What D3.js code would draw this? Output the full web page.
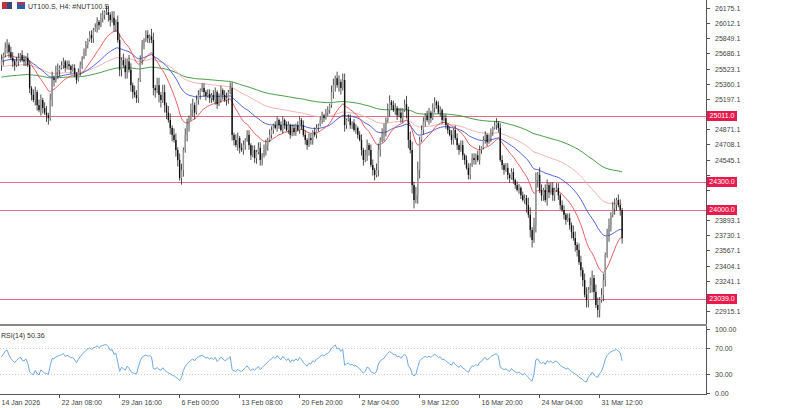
<!DOCTYPE html>
<html>
<head>
<meta charset="utf-8">
<script src="https://cdn.jsdelivr.net/npm/d3@7"></script>
<style>
  body { margin: 0; background: #fff; }
  text { font-family: "Liberation Sans", Arial, sans-serif; }
</style>
</head>
<body>
<div id="chart"></div>
<script>
// H4 closes (8 bars per row)
const closes = [
  25615,25670,25745,25780,25700,25640,25600,25560,
  25600,25640,25670,25615,25600,25640,25560,25310,
  25240,25185,25270,25130,25077,25185,25100,25050,
  25020,24990,25185,25420,25400,25485,25508,25530,
  25560,25600,25530,25570,25550,25508,25530,25470,
  25400,25485,25560,25640,25700,25780,25830,25885,
  25850,25940,25960,26025,25990,26070,26100,26130,
  26130,26100,26046,26070,25990,26025,25830,25510,
  25615,25560,25485,25600,25510,25345,25270,25240,
  25205,25400,25615,25780,25830,25885,25850,25870,
  25830,25315,25290,25345,25240,25185,25270,25130,
  25050,24970,24885,24810,24755,24647,24540,24345,
  24430,24647,24810,24915,24990,25077,25130,25050,
  25185,25240,25290,25315,25270,25230,25250,25205,
  25240,25185,25270,25140,25205,25290,25240,25185,
  25205,25270,25315,24810,24755,24700,24775,24670,
  24647,24700,24755,24810,24700,24590,24647,24560,
  24625,24670,24540,24590,24647,24700,24755,24810,
  24862,24915,24885,24970,24915,24862,24970,24915,
  24862,24915,24810,24885,24840,24915,24862,24970,
  24915,24810,24755,24700,24775,24755,24840,24810,
  24885,24915,24970,25020,24990,25050,25077,25130,
  25270,25345,25420,25345,25380,25315,25400,24915,
  24970,24990,24915,24940,24862,24885,24810,24755,
  24647,24540,24590,24700,24647,24485,24432,24380,
  24432,24647,24755,24810,24862,24970,25077,25165,
  25130,25077,25100,25020,25050,24990,25077,25140,
  25077,24755,24647,24270,24109,24160,24432,24755,
  24862,24950,25020,24970,25050,24990,25100,25165,
  25130,25050,25077,24970,24990,24915,24862,24810,
  24755,24862,24775,24700,24647,24700,24590,24540,
  24455,24380,24485,24560,24540,24590,24540,24647,
  24670,24755,24810,24730,24775,24840,24885,24915,
  24940,24885,24540,24485,24432,24455,24380,24345,
  24410,24324,24270,24217,24240,24160,24109,24130,
  24055,23950,23786,23679,23840,24324,24380,24217,
  24160,24217,24109,24270,24190,24240,24160,24217,
  24240,24160,24055,24001,23950,23894,23915,23840,
  23765,23700,23625,23571,23440,23356,23248,23090,
  23033,23141,23195,23270,23120,22980,22926,23033,
  23090,23248,23517,23730,23840,23950,24020,24055,
  24109,24055,24001,23700
];
// typical wick length per row of 8 bars (points)
const wickPerRow = [60,50,60,70,40,40,50,70,70,50,80,70,70,50,50,60,50,60,40,40,50,40,70,40,60,70,50,90,50,40,50,50,40,50,40,80,60,50,70,80,70,60];
const openFirst = 25560;
const priceTicks = [22915.1,23078.1,23241.1,23404.1,23567.1,23730.1,23893.1,24056.1,24219.1,24382.1,24545.1,24708.1,24871.1,25034.1,25197.1,25360.1,25523.1,25686.1,25849.1,26012.1,26175.1];
const levels = [25011.0, 24300.0, 24000.0, 23039.0];
const timeLabels = ["14 Jan 2026","22 Jan 08:00","29 Jan 16:00","6 Feb 00:00","13 Feb 08:00","20 Feb 20:00","2 Mar 04:00","9 Mar 12:00","16 Mar 20:00","24 Mar 04:00","31 Mar 12:00"];
const labelEvery = 32;
// moving averages: period, colour, starting value read at the left edge
const maDefs = [
  { period: 200, color: "#2f8f2f", seed: 25430 },
  { period: 100, color: "#f2a9a9", seed: 25540 },
  { period: 50,  color: "#3e4fd6", seed: 25600 },
  { period: 20,  color: "#e3504f", seed: 25640 }
];
const rsiSeed = { gain: 22, loss: 20 };

const W = 803, H = 408, axisX = 706;
const rsiTop = 329, rsiBottom = 393;
const fs = 7;

const bars = closes.map((c, i) => {
  const o = i === 0 ? openFirst : closes[i - 1];
  const w = wickPerRow[Math.floor(i / 8)];
  return { i, o, c, h: Math.max(o, c) + w * (i % 3 === 1 ? 0.4 : 1), l: Math.min(o, c) - w * (i % 3 === 2 ? 0.4 : 1) };
});

const x = d3.scaleLinear().domain([0, labelEvery]).range([1.5, 61.5]);
const y = d3.scaleLinear().domain([22915.1, 26175.1]).range([311, 8]);
const yr = d3.scaleLinear().domain([0, 100]).range([rsiBottom, rsiTop]);

const svg = d3.select("#chart").append("svg").attr("width", W).attr("height", H);

// horizontal levels
svg.append("g").selectAll("line").data(levels).join("line")
  .attr("x1", 0).attr("x2", axisX).attr("y1", d => Math.round(y(d)) + 0.5).attr("y2", d => Math.round(y(d)) + 0.5)
  .attr("stroke", "#e0708a").attr("stroke-width", 1);

// moving averages
maDefs.forEach(m => {
  const k = 2 / (m.period + 1);
  let v = m.seed;
  const pts = closes.map((c, i) => { v = v + k * (c - v); return [x(i), y(v)]; });
  svg.append("path").attr("d", d3.line()(pts)).attr("fill", "none").attr("stroke", m.color).attr("stroke-width", 0.9);
});

// candles
const cg = svg.append("g");
cg.selectAll("line").data(bars).join("line")
  .attr("x1", d => x(d.i)).attr("x2", d => x(d.i))
  .attr("y1", d => y(d.h)).attr("y2", d => y(d.l))
  .attr("stroke", "#222").attr("stroke-width", 0.8);
cg.selectAll("rect").data(bars).join("rect")
  .attr("x", d => x(d.i) - 0.7).attr("width", 1.4)
  .attr("y", d => y(Math.max(d.o, d.c)))
  .attr("height", d => Math.max(0.8, Math.abs(y(d.o) - y(d.c))))
  .attr("fill", d => d.c >= d.o ? "#9a9a9a" : "#111");

// price axis
svg.append("rect").attr("x", axisX).attr("y", 0).attr("width", W - axisX).attr("height", H).attr("fill", "#fff");
svg.append("line").attr("x1", axisX + 0.5).attr("x2", axisX + 0.5).attr("y1", 0).attr("y2", rsiBottom + 2).attr("stroke", "#555");
const pa = svg.append("g").selectAll("g").data(priceTicks).join("g")
  .attr("transform", d => `translate(${axisX},${Math.round(y(d)) + 0.5})`);
pa.append("line").attr("x1", 0).attr("x2", 4).attr("stroke", "#555");
pa.filter(d => levels.every(l => Math.abs(y(l) - y(d)) > 8))
  .append("text").attr("x", 9).attr("dy", "0.35em").attr("font-size", fs).attr("fill", "#444").text(d => d.toFixed(1));

const lv = svg.append("g").selectAll("g").data(levels).join("g")
  .attr("transform", d => `translate(${axisX + 1},${Math.round(y(d))})`);
lv.append("rect").attr("x", 0).attr("y", -5).attr("width", 30).attr("height", 10).attr("fill", "#e8194b");
lv.append("text").attr("x", 15).attr("text-anchor", "middle").attr("dy", "0.35em").attr("font-size", fs).attr("fill", "#fff").text(d => d.toFixed(1));

// separator
svg.append("rect").attr("x", 0).attr("y", 324).attr("width", axisX + 1).attr("height", 2).attr("fill", "#888");

// RSI pane
[70, 30].forEach(v => svg.append("line").attr("x1", 0).attr("x2", axisX).attr("y1", Math.round(yr(v)) + 0.5).attr("y2", Math.round(yr(v)) + 0.5)
  .attr("stroke", "#ccc").attr("stroke-dasharray", "1,2"));
let ag = rsiSeed.gain, al = rsiSeed.loss;
const rsi = closes.map((c, i) => {
  const prev = i === 0 ? openFirst : closes[i - 1];
  const ch = c - prev;
  ag = (ag * 13 + Math.max(ch, 0)) / 14;
  al = (al * 13 + Math.max(-ch, 0)) / 14;
  return 100 - 100 / (1 + ag / al);
});
svg.append("path").attr("d", d3.line()(rsi.map((v, i) => [x(i), yr(v)])))
  .attr("fill", "none").attr("stroke", "#6fa8e6").attr("stroke-width", 1);
svg.append("text").attr("x", 1).attr("y", 338).attr("font-size", fs).attr("fill", "#333")
  .text(`RSI(14) ${rsi[rsi.length - 1].toFixed(2)}`);
const ra = svg.append("g").selectAll("g").data([100, 70, 30, 0]).join("g")
  .attr("transform", d => `translate(${axisX},${Math.round(yr(d)) + 0.5})`);
ra.append("line").attr("x1", 0).attr("x2", 4).attr("stroke", "#555");
ra.append("text").attr("x", 9).attr("dy", "0.35em").attr("font-size", fs).attr("fill", "#444").text(d => d.toFixed(2));

// time axis
svg.append("line").attr("x1", 0).attr("x2", axisX).attr("y1", rsiBottom + 1.5).attr("y2", rsiBottom + 1.5).attr("stroke", "#555");
const ta = svg.append("g").selectAll("g").data(timeLabels).join("g")
  .attr("transform", (d, k) => `translate(${Math.round(x(k * labelEvery)) - 2.5},${rsiBottom + 1})`);
ta.append("line").attr("y1", 0).attr("y2", 4).attr("stroke", "#555");
ta.append("text").attr("x", 2).attr("y", 11).attr("font-size", fs).attr("fill", "#444").text(d => d);

// header
svg.append("rect").attr("x", 2).attr("y", 2).attr("width", 10).attr("height", 7).attr("fill", "#334a7a");
svg.append("rect").attr("x", 2).attr("y", 2).attr("width", 5).attr("height", 7).attr("fill", "#c03040");
svg.append("rect").attr("x", 17).attr("y", 2).attr("width", 8).attr("height", 7).attr("fill", "#2a5fa8");
svg.append("path").attr("d", "M17,2 L21,6 L25,2 Z").attr("fill", "#c03040");
svg.append("text").attr("x", 28).attr("y", 9).attr("font-size", fs).attr("fill", "#333").text("UT100.S, H4:  #NUT100.S");
</script>
</body>
</html>
